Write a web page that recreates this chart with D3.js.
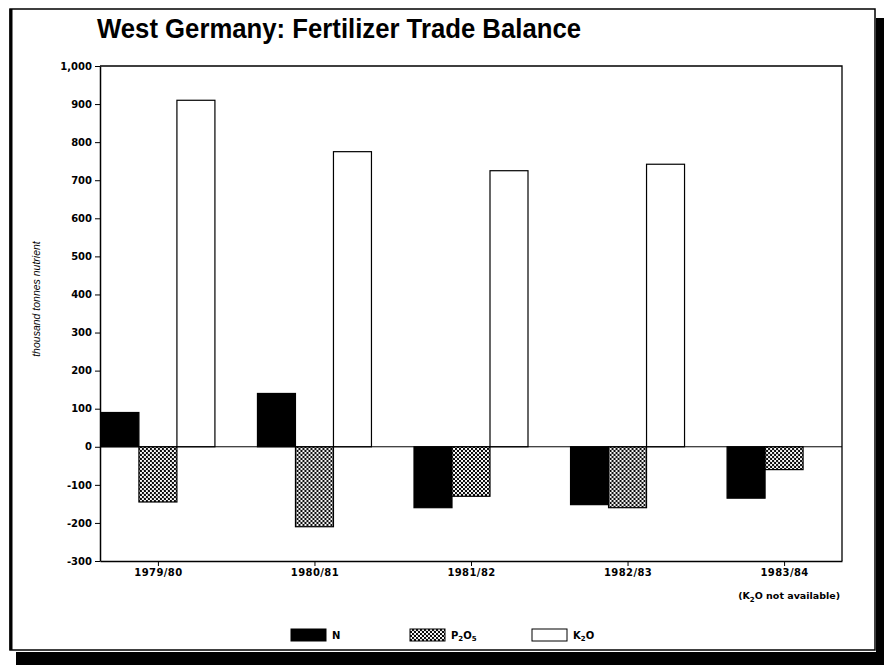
<!DOCTYPE html>
<html>
<head>
<meta charset="utf-8">
<script src="https://cdn.jsdelivr.net/npm/d3@7/dist/d3.min.js"></script>
<style>
  body { margin: 0; background: #fff; }
  svg { display: block; }
</style>
</head>
<body>
<div class="svgWrapper"></div>
<script>
// Data //
const years = ["1979/80", "1980/81", "1981/82", "1982/83", "1983/84"];
const seriesKeys = ["N", "P2O5", "K2O"];
const nValues = [90, 140, -160, -152, -135];
const pValues = [-145, -210, -130, -160, -60];
const kValues = [910, 775, 725, 742, null]; // 1983/84 not available
const yTicks = [-300, -200, -100, 0, 100, 200, 300, 400, 500, 600, 700, 800, 900, 1000];

// Styles //
const svgStyles = { w: 884, h: 665 };
const chartStyles = { left: 100, right: 842, top: 66, bottom: 561 };

let svg = d3
  .select(".svgWrapper")
  .append("svg")
  .attr("width", svgStyles.w)
  .attr("height", svgStyles.h);

// dotted fill for P2O5
const defs = svg.append("defs");
const pat = defs
  .append("pattern")
  .attr("id", "dots")
  .attr("width", 4)
  .attr("height", 4)
  .attr("patternUnits", "userSpaceOnUse");
pat.append("rect").attr("width", 4).attr("height", 4).attr("fill", "#fff");
pat.append("circle").attr("cx", 1).attr("cy", 1).attr("r", 1.15).attr("fill", "#000");
pat.append("circle").attr("cx", 3).attr("cy", 3).attr("r", 1.15).attr("fill", "#000");

const fills = { N: "#000", P2O5: "url(#dots)", K2O: "#fff" };

// page frame and shadow
svg.append("rect").attr("x", 876).attr("y", 18).attr("width", 8).attr("height", 647).attr("fill", "#000");
svg.append("rect").attr("x", 16).attr("y", 652).attr("width", 868).attr("height", 13).attr("fill", "#000");
svg
  .append("rect")
  .attr("x", 10)
  .attr("y", 9)
  .attr("width", 865)
  .attr("height", 641)
  .attr("fill", "#fff")
  .attr("stroke", "#000")
  .attr("stroke-width", 1.5);
svg.append("line").attr("x1", 11).attr("x2", 11).attr("y1", 9).attr("y2", 650)
  .attr("stroke", "#000").attr("stroke-width", 3);

// title
svg
  .append("text")
  .attr("x", 97)
  .attr("y", 38)
  .attr("textLength", 484)
  .attr("lengthAdjust", "spacingAndGlyphs")
  .style("font-family", "'Liberation Sans', Arial, sans-serif")
  .style("font-weight", "bold")
  .style("font-size", "28px")
  .text("West Germany: Fertilizer Trade Balance");

// y axis title
svg
  .append("text")
  .attr("transform", "translate(40, 299) rotate(-90)")
  .attr("text-anchor", "middle")
  .style("font-family", "'Liberation Sans', Arial, sans-serif")
  .style("font-style", "italic")
  .style("font-size", "10.5px")
  .text("thousand tonnes nutrient");

// Scales //
const xScale = d3
  .scalePoint()
  .domain(years)
  .range([chartStyles.left, chartStyles.right])
  .padding(0.37);

const barW = 38;
const xInner = d3
  .scaleBand()
  .domain(seriesKeys)
  .range([-barW * 1.5, barW * 1.5]);

const yScale = d3
  .scaleLinear()
  .domain([-300, 1000])
  .range([chartStyles.bottom, chartStyles.top]);

// plot frame (top and right)
svg
  .append("path")
  .attr("d", `M${chartStyles.left},${chartStyles.top}H${chartStyles.right}V${chartStyles.bottom}`)
  .attr("fill", "none")
  .attr("stroke", "#000")
  .attr("stroke-width", 1.3);

// bars
const rows = years.map((y, i) => ({
  year: y,
  values: [
    { key: "N", v: nValues[i] },
    { key: "P2O5", v: pValues[i] },
    { key: "K2O", v: kValues[i] }
  ].filter(d => d.v !== null)
}));

const groups = svg
  .selectAll(".group")
  .data(rows)
  .enter()
  .append("g")
  .attr("class", "group")
  .attr("transform", d => `translate(${xScale(d.year)},0)`);

groups
  .selectAll("rect")
  .data(d => d.values)
  .enter()
  .append("rect")
  .attr("x", d => xInner(d.key))
  .attr("width", xInner.bandwidth())
  .attr("y", d => yScale(Math.max(0, d.v)))
  .attr("height", d => Math.abs(yScale(d.v) - yScale(0)))
  .attr("fill", d => fills[d.key])
  .attr("stroke", "#000")
  .attr("stroke-width", 1.2);

// zero line
svg
  .append("line")
  .attr("x1", chartStyles.left)
  .attr("x2", chartStyles.right)
  .attr("y1", yScale(0))
  .attr("y2", yScale(0))
  .attr("stroke", "#000")
  .attr("stroke-width", 1);

// Y AXIS
const yAxis = d3
  .axisLeft(yScale)
  .tickValues(yTicks)
  .tickSize(5)
  .tickSizeOuter(0)
  .tickFormat(d => d.toLocaleString("en-US"));

svg
  .append("g")
  .attr("id", "y-axis")
  .attr("transform", `translate(${chartStyles.left},0)`)
  .call(yAxis)
  .call(g => g.select(".domain").attr("stroke-width", 1.5))
  .call(g => g.selectAll("text")
    .attr("x", -8)
    .style("font-family", "'DejaVu Sans', sans-serif")
    .style("font-weight", "bold")
    .style("font-size", "10px"));

// X AXIS
const xAxis = d3.axisBottom(xScale).tickSize(5).tickSizeOuter(0).tickPadding(3);

svg
  .append("g")
  .attr("id", "x-axis")
  .attr("transform", `translate(0,${chartStyles.bottom})`)
  .call(xAxis)
  .call(g => g.select(".domain").attr("stroke-width", 1.5))
  .call(g => g.selectAll("text")
    .style("font-family", "'DejaVu Sans', sans-serif")
    .style("font-weight", "bold")
    .style("font-size", "10px")
    .style("letter-spacing", "0.4px"));

// note under last year
const note = svg
  .append("text")
  .attr("x", xScale(years[4]) + 5)
  .attr("y", 599)
  .attr("text-anchor", "middle")
  .style("font-family", "'DejaVu Sans', sans-serif")
  .style("font-weight", "bold")
  .style("font-size", "9.5px");
note.append("tspan").text("(K");
note.append("tspan").attr("dy", 3).style("font-size", "7px").text("2");
note.append("tspan").attr("dy", -3).text("O not available)");

// legend
const legendItems = [
  { key: "N", x: 291, label: ["N"] },
  { key: "P2O5", x: 410, label: ["P", "2", "O", "5"] },
  { key: "K2O", x: 532, label: ["K", "2", "O"] }
];

const legend = svg.append("g").attr("id", "legend").attr("transform", "translate(0,629)");

legend
  .selectAll("rect")
  .data(legendItems)
  .enter()
  .append("rect")
  .attr("x", d => d.x)
  .attr("y", 0)
  .attr("width", 35)
  .attr("height", 12)
  .attr("fill", d => fills[d.key])
  .attr("stroke", "#000")
  .attr("stroke-width", 1);

legend
  .selectAll("text")
  .data(legendItems)
  .enter()
  .append("text")
  .attr("x", d => d.x + 41)
  .attr("y", 10)
  .style("font-family", "'DejaVu Sans', sans-serif")
  .style("font-weight", "bold")
  .style("font-size", "10px")
  .each(function(d) {
    const t = d3.select(this);
    d.label.forEach((s, i) => {
      const sub = i % 2 === 1;
      t.append("tspan")
        .attr("dy", sub ? 2 : (i > 0 ? -2 : 0))
        .style("font-size", sub ? "7px" : "10px")
        .text(s);
    });
  });
</script>
</body>
</html>
